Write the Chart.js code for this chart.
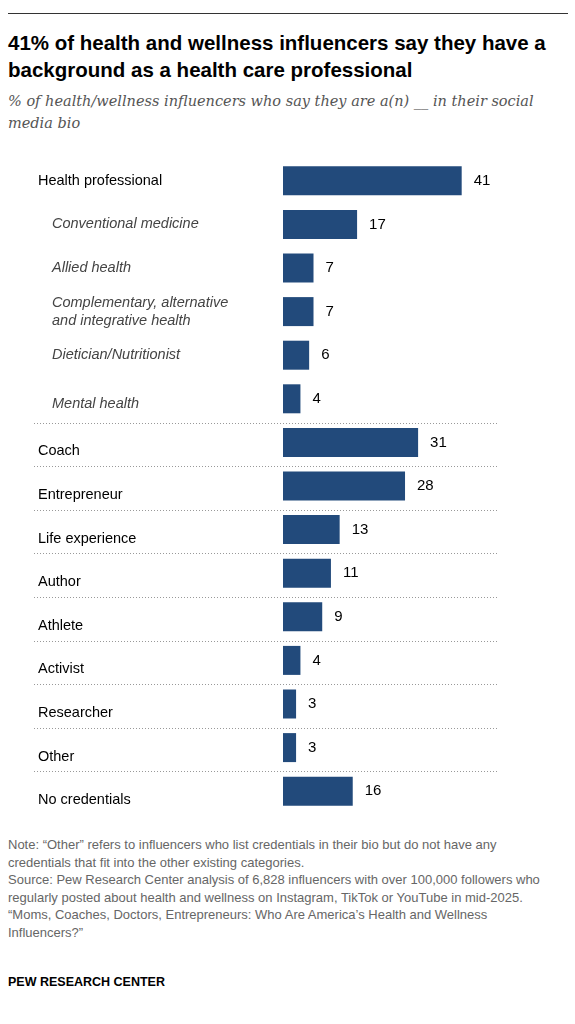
<!DOCTYPE html>
<html>
<head>
<meta charset="utf-8">
<script src="https://cdn.jsdelivr.net/npm/chart.js@4"></script>
<style>
  body { margin: 0; background: #fff; font-family: "Liberation Sans", Arial, sans-serif; }
  #wrap { position: relative; width: 575px; height: 1024px; }
  .rule { position: absolute; left: 8px; top: 13px; width: 560px; border-top: 1px solid #333; }
  h1 { position: absolute; left: 8px; top: 29px; margin: 0; width: 555px; font-size: 20.5px; line-height: 27px; font-weight: bold; color: #000; }
  .sub { position: absolute; left: 8px; top: 90px; width: 560px; font-family: "DejaVu Serif", serif; font-style: italic; font-size: 14.5px; line-height: 22px; color: #555; }
  #chartBox { position: absolute; left: 0; top: 159px; width: 575px; height: 654px; }
  .note { position: absolute; left: 8px; top: 836px; width: 540px; font-size: 13px; line-height: 17.5px; color: #666; }
  .pew { position: absolute; left: 8px; top: 975px; font-size: 12.5px; font-weight: bold; color: #000; }
</style>
</head>
<body>
<div id="wrap">
  <div class="rule"></div>
  <h1>41% of health and wellness influencers say they have a background as a health care professional</h1>
  <div class="sub">% of health/wellness influencers who say they are a(n) __ in their social media bio</div>
  <div id="chartBox"><canvas id="chart"></canvas></div>
  <div class="note">Note: “Other” refers to influencers who list credentials in their bio but do not have any credentials that fit into the other existing categories.<br>Source: Pew Research Center analysis of 6,828 influencers with over 100,000 followers who regularly posted about health and wellness on Instagram, TikTok or YouTube in mid-2025.<br>“Moms, Coaches, Doctors, Entrepreneurs: Who Are America’s Health and Wellness Influencers?”</div>
  <div class="pew">PEW RESEARCH CENTER</div>
</div>
<script>
const categories = ['Health professional', 'Conventional medicine', 'Allied health',
  ['Complementary, alternative', 'and integrative health'], 'Dietician/Nutritionist', 'Mental health',
  'Coach', 'Entrepreneur', 'Life experience', 'Author', 'Athlete', 'Activist', 'Researcher', 'Other', 'No credentials'];
const values = [41, 17, 7, 7, 6, 4, 31, 28, 13, 11, 9, 4, 3, 3, 16];
const subItems = [1, 2, 3, 4, 5];

const labelPlugin = {
  id: 'labels',
  afterDatasetsDraw(chart) {
    const ctx = chart.ctx;
    const y = chart.scales.y;
    const meta = chart.getDatasetMeta(0);
    ctx.save();
    // dotted separators from Mental health downward
    ctx.strokeStyle = '#999';
    ctx.lineWidth = 1;
    ctx.setLineDash([1, 2]);
    for (let i = 5; i < categories.length - 1; i++) {
      const ly = Math.round((y.getPixelForValue(i) + y.getPixelForValue(i + 1)) / 2 + 2) + 0.5;
      ctx.beginPath();
      ctx.moveTo(34, ly);
      ctx.lineTo(497, ly);
      ctx.stroke();
    }
    ctx.setLineDash([]);
    ctx.textBaseline = 'middle';
    categories.forEach((c, i) => {
      const cy = y.getPixelForValue(i);
      const sub = subItems.includes(i);
      ctx.fillStyle = sub ? '#444' : '#000';
      ctx.font = (sub ? 'italic ' : '') + '14.5px "Liberation Sans", Arial, sans-serif';
      const x = sub ? 52 : 38;
      let dy = 0;
      if (i === 5) dy = 5;
      if (i > 5) dy = 9;
      if (Array.isArray(c)) {
        ctx.fillText(c[0], x, cy - 9);
        ctx.fillText(c[1], x, cy + 9);
      } else {
        ctx.fillText(c, x, cy + dy);
      }
      // value label
      const bar = meta.data[i];
      ctx.fillStyle = '#000';
      ctx.font = '15px "Liberation Sans", Arial, sans-serif';
      ctx.fillText(String(values[i]), bar.x + 12, cy);
    });
    ctx.restore();
  }
};

new Chart(document.getElementById('chart'), {
  type: 'bar',
  data: {
    labels: categories,
    datasets: [{
      data: values,
      backgroundColor: '#224a7b',
      barPercentage: 0.665,
      categoryPercentage: 1
    }]
  },
  options: {
    indexAxis: 'y',
    responsive: true,
    maintainAspectRatio: false,
    animation: false,
    layout: { padding: { left: 283, right: 0, top: 0, bottom: 0 } },
    plugins: { legend: { display: false }, tooltip: { enabled: false } },
    scales: {
      x: { display: false, min: 0, max: 67 },
      y: { display: false, offset: true, grid: { display: false } }
    }
  },
  plugins: [labelPlugin]
});
</script>
</body>
</html>
